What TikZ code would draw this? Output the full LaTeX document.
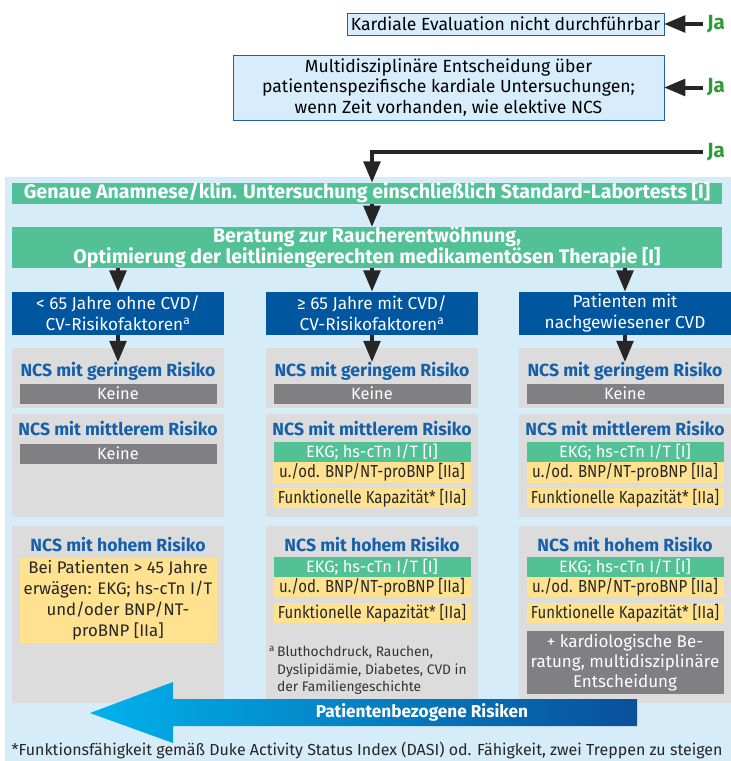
\documentclass[tikz,border=0pt]{standalone}
\usepackage{fontspec}
\setmainfont{Fira Sans}
\newfontfamily\narrowfont{Fira Sans}[FakeStretch=0.86]
\usetikzlibrary{arrows,positioning}

\definecolor{bgblue}{HTML}{D6ECF9}
\definecolor{boxblue}{HTML}{D8EDFB}
\definecolor{lineblue}{HTML}{1F5FA8}
\definecolor{darkblue}{HTML}{00569F}
\definecolor{bandgreen}{HTML}{52C195}
\definecolor{jagreen}{HTML}{2E9B3A}
\definecolor{panelgray}{HTML}{DCDCDD}
\definecolor{bargray}{HTML}{808083}
\definecolor{titleblue}{HTML}{1560A8}
\definecolor{softyellow}{HTML}{FFE290}
\definecolor{arrowcyan}{HTML}{00B2EC}
\definecolor{arrowdark}{HTML}{0A4F9B}

\begin{document}
\begin{tikzpicture}[x=1pt,y=-1pt,>=triangle 45,
    every node/.style={inner sep=0pt,align=center},
    flow/.style={line width=4pt,black!85},
    evalbox/.style={draw=lineblue,line width=0.8pt,fill=boxblue,
      font=\fontsize{17.6}{20.5}\selectfont},
    jalabel/.style={anchor=west,inner xsep=4pt,text=jagreen,
      font=\bfseries\fontsize{20.5}{21}\selectfont},
    band/.style={fill=bandgreen,text=white,minimum width=710pt,
      font=\bfseries\fontsize{19.6}{18.5}\selectfont},
    group/.style={fill=darkblue,text=white,minimum width=212pt,minimum height=43pt,
      font=\fontsize{17.2}{21.5}\selectfont},
    panel/.style={fill=panelgray,minimum width=212pt},
    title/.style={text=titleblue,font=\bfseries\fontsize{17.6}{18}\selectfont},
    bar/.style={minimum width=197pt,minimum height=20pt,
      font=\fontsize{16.4}{20}\selectfont},
    graybar/.style={bar,fill=bargray,text=white},
    greenbar/.style={bar,fill=bandgreen,text=white},
    yellowbar/.style={bar,fill=softyellow,text=black!85,
      font=\narrowfont\fontsize{17.4}{20}\selectfont}]

  \useasboundingbox (0,0) rectangle (731,761);
  \fill[bgblue] (5,177) rectangle (731,761);

  % obere Kaesten
  \node[evalbox,minimum width=317pt,minimum height=22pt] (eval) at (505.5,24)
    {Kardiale Evaluation nicht durchführbar};
  \node[evalbox,minimum width=431pt,minimum height=65pt] (multi) at (448.5,87.5)
    {Multidisziplinäre Entscheidung über\\patientenspezifische kardiale Untersuchungen;\\wenn Zeit vorhanden, wie elektive NCS};
  \node[jalabel] (ja1) at (703,24)   {Ja};
  \node[jalabel] (ja2) at (703,87.5) {Ja};
  \node[jalabel] (ja3) at (703,152)  {Ja};

  % Baender
  \node[band,minimum height=21pt] (anam) at (367,193)
    {Genaue Anamnese/klin. Untersuchung einschließlich Standard-Labortests [I]};
  \node[band,minimum height=41pt] (rauch) at (367,247.5)
    {Beratung zur Raucherentwöhnung,\\Optimierung der leitliniengerechten medikamentösen Therapie [I]};

  % Patientengruppen
  \node[group] (grpA) at (118,313) {< 65 Jahre ohne CVD/\\CV-Risikofaktoren\textsuperscript{a}};
  \node[group] (grpB) at (372,313) {≥ 65 Jahre mit CVD/\\CV-Risikofaktoren\textsuperscript{a}};
  \node[group] (grpC) at (625,313) {Patienten mit\\nachgewiesener CVD};

  % geringes Risiko
  \node[panel,minimum height=60pt] (lowA) at (118,378) {};
  \node[panel,minimum height=60pt] (lowB) at (372,378) {};
  \node[panel,minimum height=60pt] (lowC) at (625,378) {};
  \node[title] (tlowA) at (118,371) {NCS mit geringem Risiko};
  \node[title] (tlowB) at (372,371) {NCS mit geringem Risiko};
  \node[title] (tlowC) at (625,371) {NCS mit geringem Risiko};
  \node[graybar] (klowA) at (118,393.5) {Keine};
  \node[graybar] (klowB) at (372,393.5) {Keine};
  \node[graybar] (klowC) at (625,393.5) {Keine};

  % mittleres Risiko
  \node[panel,minimum height=103pt] (modA) at (118,465.5) {};
  \node[panel,minimum height=103pt] (modB) at (372,465.5) {};
  \node[panel,minimum height=103pt] (modC) at (625,465.5) {};
  \node[title] (tmodA) at (118,429) {NCS mit mittlerem Risiko};
  \node[title] (tmodB) at (372,429) {NCS mit mittlerem Risiko};
  \node[title] (tmodC) at (625,429) {NCS mit mittlerem Risiko};
  \node[graybar] (kmodA) at (118,453.5) {Keine};
  \node[greenbar] (ekgmodB) at (372,452) {EKG; hs-cTn I/T [I]};
  \node[yellowbar,minimum height=21pt] (bnpmodB) at (372,472.5) {u./od. BNP/NT-proBNP [IIa]};
  \node[yellowbar] (fkmodB) at (372,498) {Funktionelle Kapazität* [IIa]};
  \node[greenbar] (ekgmodC) at (625,452) {EKG; hs-cTn I/T [I]};
  \node[yellowbar,minimum height=21pt] (bnpmodC) at (625,472.5) {u./od. BNP/NT-proBNP [IIa]};
  \node[yellowbar] (fkmodC) at (625,498) {Funktionelle Kapazität* [IIa]};

  % hohes Risiko
  \node[panel,minimum height=177pt] (highA) at (118,614.5) {};
  \node[panel,minimum height=177pt] (highB) at (372,614.5) {};
  \node[panel,minimum height=177pt] (highC) at (625,614.5) {};
  \node[title] (thighA) at (118,545) {NCS mit hohem Risiko};
  \node[title] (thighB) at (372,545) {NCS mit hohem Risiko};
  \node[title] (thighC) at (625,545) {NCS mit hohem Risiko};
  \node[yellowbar,minimum height=85pt,font=\fontsize{16.8}{21}\selectfont]
    (pathighA) at (118,600.5) {Bei Patienten > 45 Jahre\\erwägen: EKG; hs-cTn I/T\\und/oder BNP/NT-\\proBNP [IIa]};
  \node[greenbar] (ekghighB) at (372,567) {EKG; hs-cTn I/T [I]};
  \node[yellowbar] (bnphighB) at (372,587) {u./od. BNP/NT-proBNP [IIa]};
  \node[yellowbar] (fkhighB) at (372,613) {Funktionelle Kapazität* [IIa]};
  \node[greenbar] (ekghighC) at (625,567) {EKG; hs-cTn I/T [I]};
  \node[yellowbar] (bnphighC) at (625,587) {u./od. BNP/NT-proBNP [IIa]};
  \node[yellowbar] (fkhighC) at (625,613) {Funktionelle Kapazität* [IIa]};
  \node[graybar,minimum height=63pt,font=\fontsize{17}{20}\selectfont]
    (kardC) at (625,662.5) {+ kardiologische Be-\\ratung, multidisziplinäre\\Entscheidung};
  \node[anchor=north west,align=left,text=black!80,font=\fontsize{13.8}{17.5}\selectfont]
    (fnB) at (277,646) {\llap{\textsuperscript{a}\,}Bluthochdruck, Rauchen,\\Dyslipidämie, Diabetes, CVD in\\der Familiengeschichte};

  % Risikopfeil
  \shade[left color=arrowcyan,right color=arrowdark]
    (90,713) -- (173,682) -- (173,699) -- (637,699) -- (637,726)
    -- (173,726) -- (173,743) -- cycle;
  \node[text=white,font=\bfseries\fontsize{17.2}{18}\selectfont] (risk) at (422,712.5)
    {Patientenbezogene Risiken};

  \node[text=black!85,font=\fontsize{16}{17}\selectfont] (dasi) at (367,750)
    {*Funktionsfähigkeit gemäß Duke Activity Status Index (DASI) od. Fähigkeit, zwei Treppen zu steigen};

  % Pfeile
  \path[->,flow] (ja1) edge (eval);
  \path[->,flow] (ja2) edge (multi);
  \draw[->,flow] (ja3.west) -| (grpB |- anam.north);
  \path[->,flow] (grpB |- anam.south) edge (grpB |- rauch.north);
  \path[->,flow] (grpA |- rauch.south) edge (grpA);
  \path[->,flow] (grpB |- rauch.south) edge (grpB);
  \path[->,flow] (grpC |- rauch.south) edge (grpC);
  \path[->,flow] (grpA) edge (tlowA);
  \path[->,flow] (grpB) edge (tlowB);
  \path[->,flow] (grpC) edge (tlowC);
\end{tikzpicture}
\end{document}
